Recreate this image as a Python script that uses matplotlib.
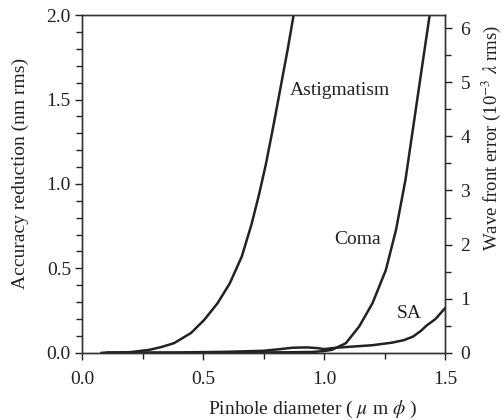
import numpy as np
import matplotlib
matplotlib.use("Agg")
from matplotlib import pyplot as plt
from matplotlib.ticker import MultipleLocator, FormatStrFormatter

# values (nm rms vs pinhole diameter in um)
astig_x = [0.08, 0.20, 0.28, 0.33, 0.38, 0.45, 0.505, 0.56, 0.61, 0.66,
           0.70, 0.73, 0.76, 0.79, 0.82, 0.85, 0.874]
astig_y = [0.0, 0.004, 0.018, 0.035, 0.057, 0.117, 0.195, 0.294, 0.41, 0.57,
           0.76, 0.93, 1.12, 1.34, 1.57, 1.80, 2.0]

coma_x = [0.10, 0.40, 0.70, 0.85, 0.95, 1.00, 1.033, 1.09, 1.145, 1.20,
          1.255, 1.297, 1.336, 1.37, 1.40, 1.436]
coma_y = [0.0, 0.0, 0.002, 0.003, 0.005, 0.010, 0.018, 0.057, 0.156, 0.294,
          0.49, 0.728, 1.024, 1.356, 1.65, 2.0]

sa_x = [0.10, 0.40, 0.60, 0.75, 0.82, 0.87, 0.93, 0.97, 1.00, 1.05, 1.10, 1.20,
        1.28, 1.33, 1.367, 1.40, 1.422, 1.46, 1.50]
sa_y = [0.0, 0.002, 0.006, 0.012, 0.022, 0.03, 0.032, 0.028, 0.022, 0.03, 0.035,
        0.045, 0.06, 0.075, 0.096, 0.13, 0.16, 0.20, 0.265]

labels = [("Astigmatism", 0.858, 1.556), ("Coma", 1.04, 0.67), ("SA", 1.30, 0.23)]

plt.rcParams['font.family'] = ['Liberation Serif', 'DejaVu Serif']
plt.rcParams['mathtext.fontset'] = 'stix'

fig = plt.figure(figsize=(5.03, 4.20), dpi=100)
ax = fig.add_axes([0.163, 0.160, 0.722, 0.804])

col = '#222222'
for xs, ys in [(astig_x, astig_y), (coma_x, coma_y), (sa_x, sa_y)]:
    ax.plot(xs, ys, color=col, lw=1.8, solid_capstyle='round', solid_joinstyle='round')

for txt, tx, ty in labels:
    ax.text(tx, ty, txt, fontsize=14, va='center', ha='left', color=col)

ax.set_xlim(0, 1.5)
ax.set_ylim(0, 2.0)
ax.xaxis.set_major_locator(MultipleLocator(0.5))
ax.xaxis.set_minor_locator(MultipleLocator(0.25))
ax.yaxis.set_major_locator(MultipleLocator(0.5))
ax.yaxis.set_minor_locator(MultipleLocator(0.1))
ax.xaxis.set_major_formatter(FormatStrFormatter('%.1f'))
ax.yaxis.set_major_formatter(FormatStrFormatter('%.1f'))
ax.tick_params(which='both', direction='out', length=5, width=1, labelsize=14,
               colors=col)
ax.tick_params(axis='x', pad=8)
ax.tick_params(axis='y', pad=3)
ax.tick_params(which='minor', length=4)
for s in ax.spines.values():
    s.set_linewidth(1.0)
    s.set_color('#333333')

ax2 = ax.twinx()
ax2.set_ylim(0, 2.0 * 3.12)
ax2.yaxis.set_major_locator(MultipleLocator(1))
ax2.yaxis.set_minor_locator(MultipleLocator(0.5))
ax2.tick_params(which='both', direction='out', length=5, width=1, labelsize=14, pad=6,
                colors=col)
ax2.tick_params(which='minor', length=4)
for s in ax2.spines.values():
    s.set_linewidth(1.0)
    s.set_color('#333333')

# axis titles placed where the reference has them
fig.text(0.622, 0.024, r'Pinhole diameter ( $\mu$ m $\phi$ )', fontsize=14,
         ha='center', va='center', color=col)
fig.text(0.040, 0.588, 'Accuracy reduction (nm rms)', fontsize=14, rotation=90,
         ha='center', va='center', color=col)
fig.text(0.976, 0.672, r'Wave front error (10$^{-3}$ $\lambda$ rms)', fontsize=13.5,
         rotation=90, ha='center', va='center', color=col)

fig.savefig('out.png', dpi=100)
